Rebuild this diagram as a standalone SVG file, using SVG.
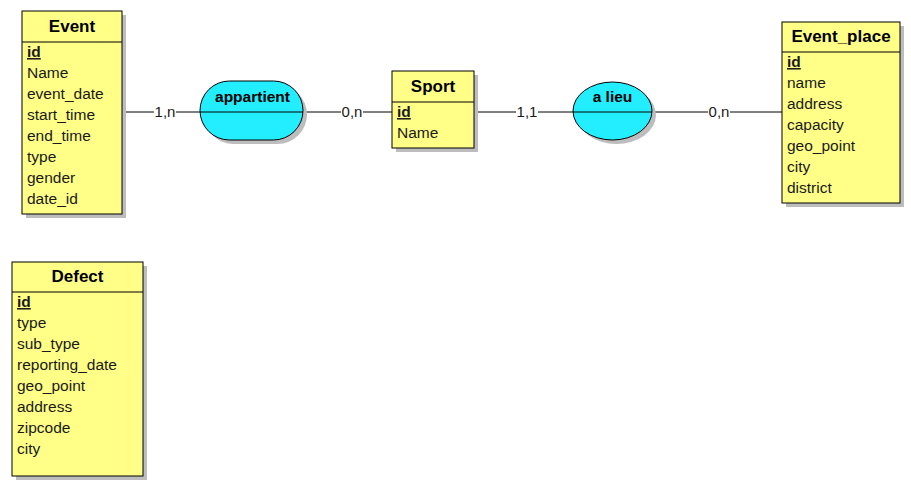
<svg xmlns="http://www.w3.org/2000/svg" width="911" height="482" viewBox="0 0 911 482">
<style>
.ent{fill:#FFFF88;stroke:#000;stroke-width:1}
.rel{fill:#22EEFF;stroke:#000;stroke-width:1}
.sh{fill:#BDBDBD}
.ln{stroke:#000;stroke-width:1;fill:none}
.t{font-family:"Liberation Sans",Arial,sans-serif;font-size:15.5px;fill:#1a1a1a}
.h{font-family:"Liberation Sans",Arial,sans-serif;font-size:17px;font-weight:bold;fill:#000;text-anchor:middle}
.r{font-family:"Liberation Sans",Arial,sans-serif;font-size:15.5px;font-weight:bold;fill:#000;text-anchor:middle}
.k{font-weight:bold;text-decoration:underline}
.c{font-family:"Liberation Sans",Arial,sans-serif;font-size:15px;fill:#1a1a1a;text-anchor:middle}
.lb{fill:#fff}
</style>
<g id="connectors">
<line class="ln" x1="122" y1="112" x2="200" y2="112"/>
<rect class="lb" x="154" y="104" width="22" height="14"/>
<text class="c" x="165" y="117">1,n</text>
<line class="ln" x1="303" y1="112" x2="392" y2="112"/>
<rect class="lb" x="341" y="104" width="22" height="14"/>
<text class="c" x="352" y="117">0,n</text>
<line class="ln" x1="474" y1="112" x2="573" y2="112"/>
<rect class="lb" x="516" y="104" width="22" height="14"/>
<text class="c" x="527" y="117">1,1</text>
<line class="ln" x1="652" y1="112" x2="782" y2="112"/>
<rect class="lb" x="708" y="104" width="22" height="14"/>
<text class="c" x="719" y="117">0,n</text>
</g>
<g id="Event">
<rect class="sh" x="26" y="15" width="100" height="203"/>
<rect class="ent" x="22" y="11" width="100" height="203"/>
<line class="ln" x1="22" y1="42" x2="122" y2="42"/>
<text class="h" x="72" y="32">Event</text>
<text class="t k" x="27" y="57">id</text>
<text class="t" x="27" y="78">Name</text>
<text class="t" x="27" y="99">event_date</text>
<text class="t" x="27" y="120">start_time</text>
<text class="t" x="27" y="141">end_time</text>
<text class="t" x="27" y="162">type</text>
<text class="t" x="27" y="183">gender</text>
<text class="t" x="27" y="204">date_id</text>
</g>
<g id="appartient">
<rect class="sh" x="204" y="85" width="103" height="59" rx="29.5"/>
<rect class="rel" x="200" y="81" width="103" height="59" rx="29.5"/>
<line class="ln" x1="200" y1="112" x2="303" y2="112"/>
<text class="r" x="252.5" y="102">appartient</text>
</g>
<g id="Sport">
<rect class="sh" x="396" y="75" width="82" height="77"/>
<rect class="ent" x="392" y="71" width="82" height="77"/>
<line class="ln" x1="392" y1="102" x2="474" y2="102"/>
<text class="h" x="433" y="92">Sport</text>
<text class="t k" x="397" y="117">id</text>
<text class="t" x="397" y="138">Name</text>
</g>
<g id="a_lieu">
<ellipse class="sh" cx="616.5" cy="115" rx="39.5" ry="29"/>
<ellipse class="rel" cx="612.5" cy="111" rx="39.5" ry="29"/>
<line class="ln" x1="573" y1="112" x2="652" y2="112"/>
<text class="r" x="612.5" y="102">a lieu</text>
</g>
<g id="Event_place">
<rect class="sh" x="786" y="26" width="118" height="181"/>
<rect class="ent" x="782" y="22" width="118" height="181"/>
<line class="ln" x1="782" y1="52" x2="900" y2="52"/>
<text class="h" x="841" y="42">Event_place</text>
<text class="t k" x="787" y="67">id</text>
<text class="t" x="787" y="88">name</text>
<text class="t" x="787" y="109">address</text>
<text class="t" x="787" y="130">capacity</text>
<text class="t" x="787" y="151">geo_point</text>
<text class="t" x="787" y="172">city</text>
<text class="t" x="787" y="193">district</text>
</g>
<g id="Defect">
<rect class="sh" x="16" y="266" width="131" height="214"/>
<rect class="ent" x="12" y="262" width="131" height="214"/>
<line class="ln" x1="12" y1="292" x2="143" y2="292"/>
<text class="h" x="77.5" y="282">Defect</text>
<text class="t k" x="17" y="307">id</text>
<text class="t" x="17" y="328">type</text>
<text class="t" x="17" y="349">sub_type</text>
<text class="t" x="17" y="370">reporting_date</text>
<text class="t" x="17" y="391">geo_point</text>
<text class="t" x="17" y="412">address</text>
<text class="t" x="17" y="433">zipcode</text>
<text class="t" x="17" y="454">city</text>
</g>
</svg>
